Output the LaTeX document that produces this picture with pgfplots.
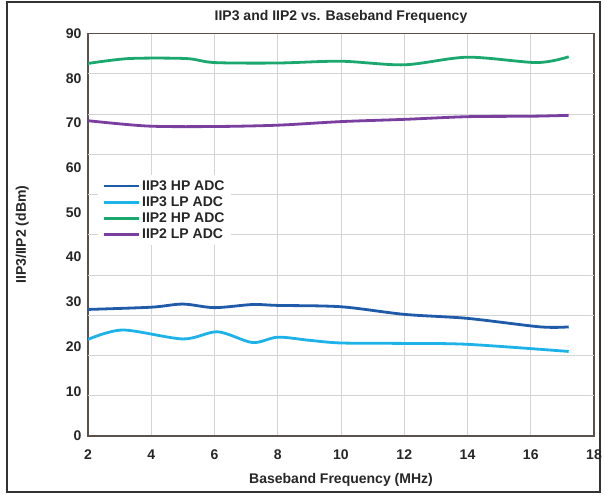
\documentclass[border=0pt]{standalone}
\usepackage{fontspec}
\setmainfont{Liberation Sans}
\usepackage{pgfplots}
\pgfplotsset{compat=1.18}
\definecolor{hp3}{HTML}{1F5BA8}
\definecolor{lp3}{HTML}{1DB2E8}
\definecolor{hp2}{HTML}{1BA86E}
\definecolor{lp2}{HTML}{7A3E9E}
\definecolor{axgray}{HTML}{5A504C}
\definecolor{gridgray}{HTML}{D4D4D4}
\begin{document}
\begin{tikzpicture}
% page size and outer frame, in pixels of the reference
\path[use as bounding box] (-88pt,-62pt) rectangle (517pt,436pt);
\draw[line width=1.3pt, color=black!80] (-81pt,-56pt) rectangle (512pt,434pt);
\begin{axis}[
  at={(0pt,0pt)}, anchor=south west,
  scale only axis, width=506pt, height=402.5pt,
  xmin=2, xmax=18, ymin=0, ymax=90,
  xtick={2,4,...,18}, ytick={0,10,...,90},
  major tick length=0pt,
  xmajorgrids=true, ymajorgrids=false,
  extra y ticks={9,18,...,81},
  extra y tick labels={},
  extra y tick style={ymajorgrids=true, major tick length=0pt},
  grid style={draw=gridgray, line width=0.9pt},
  axis line style={draw=axgray, line width=1.8pt},
  /pgf/number format/assume math mode=true,
  ticklabel style={font=\bfseries\fontsize{14}{16}\selectfont, text=black!85},
  xticklabel style={yshift=-10pt},
  yticklabel style={xshift=-3pt},
  title={IIP3 and IIP2 vs. Baseband Frequency},
  every axis title shift=0pt,
  title style={font=\bfseries\fontsize{14}{16}\selectfont, text=black!85,
    at={(axis description cs:0.5,1.041)}, anchor=center, yshift=0pt},
  xlabel={Baseband Frequency (MHz)},
  xlabel style={font=\bfseries\fontsize{14}{16}\selectfont, text=black!85,
    at={(axis description cs:0.5,-0.109)}, anchor=center},
  ylabel={IIP3/IIP2 (dBm)},
  ylabel style={font=\bfseries\fontsize{14}{16}\selectfont, text=black!85,
    at={(axis description cs:-0.130,0.5)}, anchor=center},
  legend style={draw=none, fill=white, at={(0.02,0.648)}, anchor=north west,
    font=\bfseries\fontsize{14}{16}\selectfont, text=black!85,
    row sep=1pt, inner xsep=4pt, inner ysep=3pt},
  legend cell align=left,
  legend image code/.code={\draw[#1, line width=2.8pt] (0pt,0pt) -- (35pt,0pt);},
  every axis plot/.append style={line width=2.8pt, smooth, no markers},
]
\addplot[hp3] coordinates {
  (2,28.3) (4,28.8) (5,29.5) (6,28.7) (7.2,29.4) (8,29.2) (10,28.9)
  (12,27.2) (14,26.3) (16.3,24.4) (17.2,24.4)
};
\addlegendentry{IIP3 HP ADC}
\addplot[lp3] coordinates {
  (2,21.6) (3.1,23.7) (5,21.7) (6.1,23.3) (7.2,20.9) (8,22.1) (9,21.4)
  (10,20.8) (12,20.7) (14,20.5) (17.2,18.9)
};
\addlegendentry{IIP3 LP ADC}
\addplot[hp2] coordinates {
  (2,83.3) (3.3,84.4) (5.1,84.4) (6,83.5) (8,83.4) (10,83.8) (12,83.0)
  (14,84.7) (16.2,83.5) (17.2,84.8)
};
\addlegendentry{IIP2 HP ADC}
\addplot[lp2] coordinates {
  (2,70.5) (3.9,69.3) (6,69.2) (8,69.5) (10,70.3) (12,70.8) (14,71.4)
  (16,71.5) (17.2,71.7)
};
\addlegendentry{IIP2 LP ADC}
\end{axis}
\end{tikzpicture}
\end{document}
